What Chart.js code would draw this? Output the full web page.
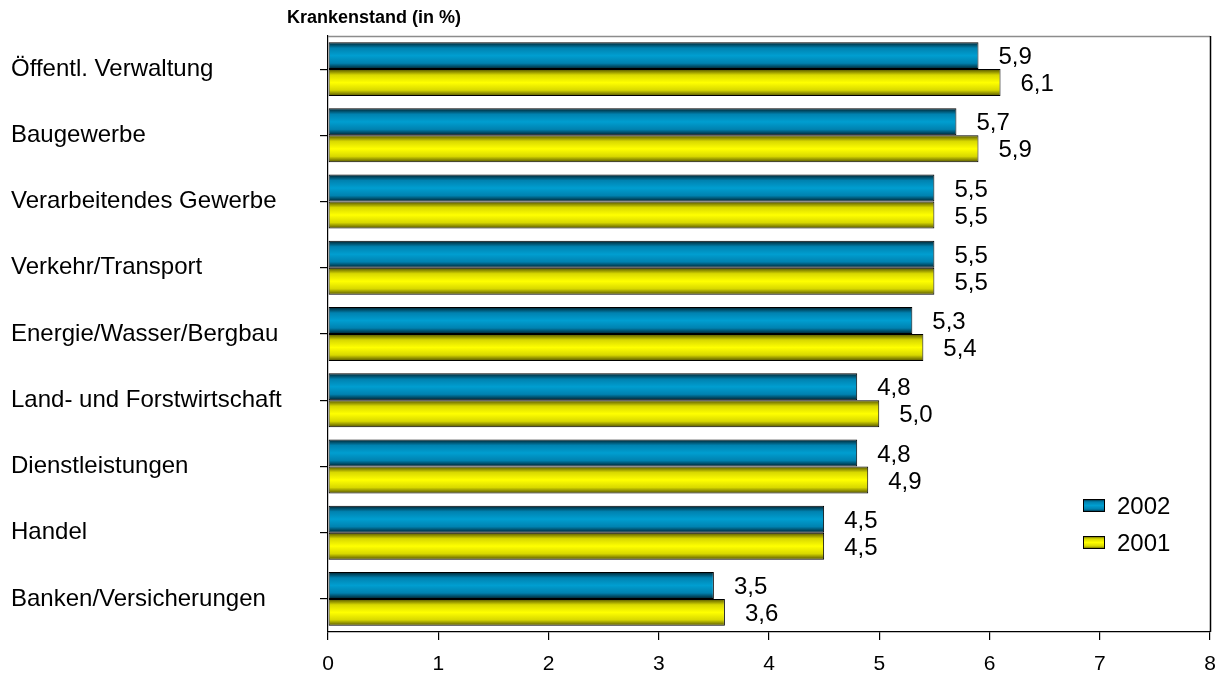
<!DOCTYPE html>
<html>
<head>
<meta charset="utf-8">
<script src="https://cdn.jsdelivr.net/npm/chart.js@4.4.1/dist/chart.umd.min.js"></script>
<style>
html,body{margin:0;padding:0;background:#fff;}
#wrap{width:1224px;height:679px;position:relative;}
</style>
</head>
<body>
<div id="wrap"><canvas id="c"></canvas></div>
<script>
const categories = ["Öffentl. Verwaltung","Baugewerbe","Verarbeitendes Gewerbe","Verkehr/Transport","Energie/Wasser/Bergbau","Land- und Forstwirtschaft","Dienstleistungen","Handel","Banken/Versicherungen"];
const values2002 = [5.9,5.7,5.5,5.5,5.3,4.8,4.8,4.5,3.5];
const values2001 = [6.1,5.9,5.5,5.5,5.4,5.0,4.9,4.5,3.6];
const seriesLabels = ["2002","2001"];
const xTicks = [0,1,2,3,4,5,6,7,8];
const axisTitle = "Krankenstand (in %)";

const FONT = "Arial, 'Liberation Sans', sans-serif";
const gradStops = [
  [[0,'#00202c'],[0.22,'#0082b0'],[0.5,'#009ed0'],[0.78,'#0082b0'],[1,'#00202c']],
  [[0,'#505000'],[0.22,'#d8d800'],[0.5,'#ffff00'],[0.78,'#d8d800'],[1,'#505000']]
];
function makeGrad(ctx, y0, y1, ds){
  const g = ctx.createLinearGradient(0, y0, 0, y1);
  gradStops[ds].forEach(s => g.addColorStop(s[0], s[1]));
  return g;
}

const gradientPlugin = {
  id: 'gradBars',
  beforeDatasetsDraw(chart){
    chart.data.datasets.forEach((d, di) => {
      const meta = chart.getDatasetMeta(di);
      meta.data.forEach(el => {
        const h = el.height;
        const g = makeGrad(chart.ctx, el.y - h/2, el.y + h/2, di);
        el.options = Object.assign({}, el.options, {backgroundColor: g});
      });
    });
  }
};

const decorPlugin = {
  id: 'decor',
  afterDraw(chart){
    const ctx = chart.ctx, a = chart.chartArea;
    ctx.save();
    ctx.lineWidth = 1.5;
    ctx.strokeStyle = '#8c8c8c';
    ctx.beginPath(); ctx.moveTo(a.left, a.top + 0.5); ctx.lineTo(a.right, a.top + 0.5); ctx.stroke();
    ctx.strokeStyle = '#000';
    ctx.beginPath(); ctx.moveTo(a.right + 0.5, a.top); ctx.lineTo(a.right + 0.5, a.bottom); ctx.stroke();
    ctx.fillStyle = '#000';
    ctx.font = "bold 18px " + FONT;
    ctx.textAlign = 'left'; ctx.textBaseline = 'middle';
    ctx.fillText(axisTitle, 287, 18);
    ctx.font = "24px " + FONT;
    chart.data.datasets.forEach((d, di) => {
      const meta = chart.getDatasetMeta(di);
      meta.data.forEach((el, i) => {
        const txt = d.data[i].toFixed(1).replace('.', ',');
        ctx.fillText(txt, el.x + 20, el.y + 2);
      });
    });
    const lx = 1083, ly = [499, 536];
    chart.data.datasets.forEach((d, di) => {
      const y = ly[di];
      ctx.fillStyle = makeGrad(ctx, y, y + 13, di);
      ctx.fillRect(lx, y, 22, 13);
      ctx.strokeStyle = '#000'; ctx.lineWidth = 1;
      ctx.strokeRect(lx + 0.5, y + 0.5, 21, 12);
      ctx.fillStyle = '#000';
      ctx.font = "24px " + FONT;
      ctx.textAlign = 'left'; ctx.textBaseline = 'middle';
      ctx.fillText(d.label, 1117, y + 8);
    });
    ctx.restore();
  }
};

new Chart(document.getElementById('c'), {
  type: 'bar',
  data: {
    labels: categories,
    datasets: [
      {label: seriesLabels[0], data: values2002, backgroundColor: '#0099cc', borderColor: '#000', borderWidth: 1, borderSkipped: false},
      {label: seriesLabels[1], data: values2001, backgroundColor: '#ffff00', borderColor: '#000', borderWidth: 1, borderSkipped: false}
    ]
  },
  options: {
    indexAxis: 'y',
    responsive: true,
    maintainAspectRatio: false,
    animation: false,
    categoryPercentage: 0.815,
    barPercentage: 1.0,
    layout: {padding: {left: 11, top: 36, right: 14, bottom: 0}},
    plugins: {legend: {display: false}, tooltip: {enabled: false}, title: {display: false}},
    scales: {
      x: {
        type: 'linear', min: 0, max: 8,
        afterBuildTicks(s){ s.ticks = xTicks.map(v => ({value: v})); },
        afterFit(s){ s.height = 47; s.paddingRight = 0; s.paddingLeft = 0; },
        grid: {drawOnChartArea: false, tickLength: 8, color: '#000', lineWidth: 1.2},
        border: {color: '#000', width: 1.2},
        ticks: {color: '#000', font: {family: FONT, size: 21}, padding: 12, maxRotation: 0,
                callback: v => String(v)}
      },
      y: {
        afterFit(s){ s.width = 317; },
        grid: {drawOnChartArea: false, tickLength: 8, color: '#000', lineWidth: 1.2, offset: false},
        border: {color: '#000', width: 1.2},
        ticks: {color: '#000', font: {family: FONT, size: 24}, crossAlign: 'far', padding: 10}
      }
    }
  },
  plugins: [gradientPlugin, decorPlugin]
});
</script>
</body>
</html>
